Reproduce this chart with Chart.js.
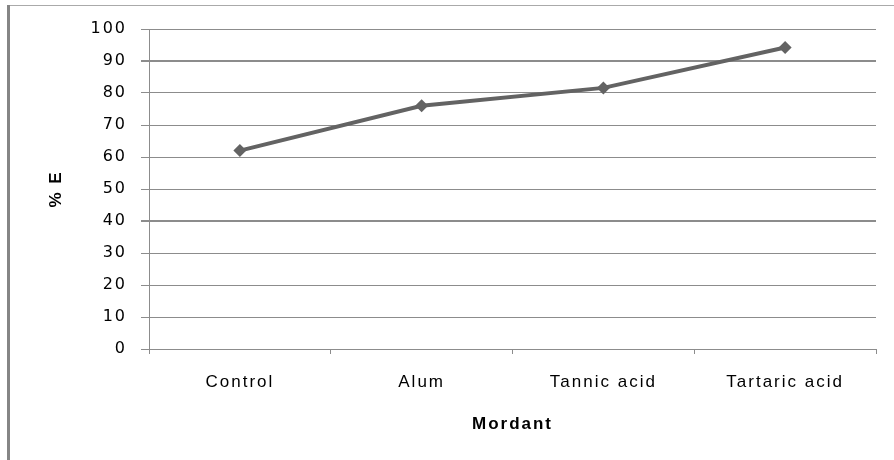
<!DOCTYPE html>
<html>
<head>
<meta charset="utf-8">
<script src="https://cdn.jsdelivr.net/npm/chart.js@4"></script>
<style>
  html, body { margin: 0; padding: 0; background: #fff; }
  #wrap { width: 894px; height: 460px; position: relative; }
</style>
</head>
<body>
<div id="wrap"><canvas id="lineChart"></canvas></div>
<script>
// Data
const mordants = ['Control', 'Alum', 'Tannic acid', 'Tartaric acid'];
const percentE = [62, 76, 81.6, 94.2];
const yTicks = [0, 10, 20, 30, 40, 50, 60, 70, 80, 90, 100];

const lineColor = '#636363';
const gridColor = '#8c8c8c';
const spacing = '2px';

// Frame around the chart (thick left edge, thin top edge) + text spacing
const framePlugin = {
  id: 'frame',
  beforeDraw(chart) {
    const ctx = chart.ctx;
    ctx.letterSpacing = spacing;
    ctx.save();
    ctx.strokeStyle = '#aaaaaa';
    ctx.lineWidth = 1;
    ctx.beginPath();
    ctx.moveTo(8, 5.5);
    ctx.lineTo(894, 5.5);
    ctx.stroke();
    ctx.strokeStyle = '#858585';
    ctx.lineWidth = 3;
    ctx.beginPath();
    ctx.moveTo(8.5, 5);
    ctx.lineTo(8.5, 460);
    ctx.stroke();
    ctx.restore();
  },
  beforeDatasetsDraw(chart) {
    chart.ctx.letterSpacing = '0px';
  },
  afterDatasetsDraw(chart) {
    chart.ctx.letterSpacing = spacing;
  }
};

const data = {
  labels: mordants,
  datasets: [
    {
      label: '% E',
      data: percentE,
      fill: false,
      borderColor: lineColor,
      backgroundColor: lineColor,
      borderWidth: 4,
      pointStyle: 'rectRot',
      pointRadius: 6.5,
      pointHoverRadius: 6.5,
      pointBorderWidth: 0,
      tension: 0
    }
  ]
};

const config = {
  type: 'line',
  data: data,
  options: {
    responsive: true,
    maintainAspectRatio: false,
    animation: false,
    layout: {
      padding: { left: 0, top: 29, right: 18, bottom: 0 }
    },
    scales: {
      x: {
        offset: true,
        grid: {
          offset: true,
          drawOnChartArea: false,
          drawTicks: true,
          tickLength: 5,
          color: gridColor,
          lineWidth: 1
        },
        border: { display: false },
        ticks: {
          color: '#000',
          padding: 18,
          maxRotation: 0,
          font: { family: 'Liberation Sans', size: 17 }
        },
        title: {
          display: true,
          text: 'Mordant',
          color: '#000',
          padding: { top: 0, bottom: 25 },
          font: { family: 'Liberation Sans', size: 17, weight: 'bold' }
        },
        afterFit(scale) { scale.height = 111; }
      },
      y: {
        min: 0,
        max: 100,
        afterBuildTicks(scale) {
          scale.ticks = yTicks.map(v => ({ value: v }));
        },
        grid: {
          color: gridColor,
          lineWidth: ctx => (ctx.tick && (ctx.tick.value === 40 || ctx.tick.value === 90)) ? 2 : 1,
          tickLength: 8
        },
        border: { display: true, color: gridColor, width: 1 },
        ticks: {
          color: '#000',
          padding: 14,
          font: { family: 'DejaVu Sans', size: 16 }
        },
        title: {
          display: true,
          text: '% E',
          color: '#000',
          padding: { top: 46, bottom: 0 },
          font: { family: 'Liberation Sans', size: 17, weight: 'bold' }
        },
        afterFit(scale) { scale.width = 149; }
      }
    },
    plugins: {
      legend: { display: false },
      tooltip: { enabled: false }
    }
  },
  plugins: [framePlugin]
};

const ctx1 = document.getElementById('lineChart').getContext('2d');
const myLineChart = new Chart(ctx1, config);
</script>
</body>
</html>
